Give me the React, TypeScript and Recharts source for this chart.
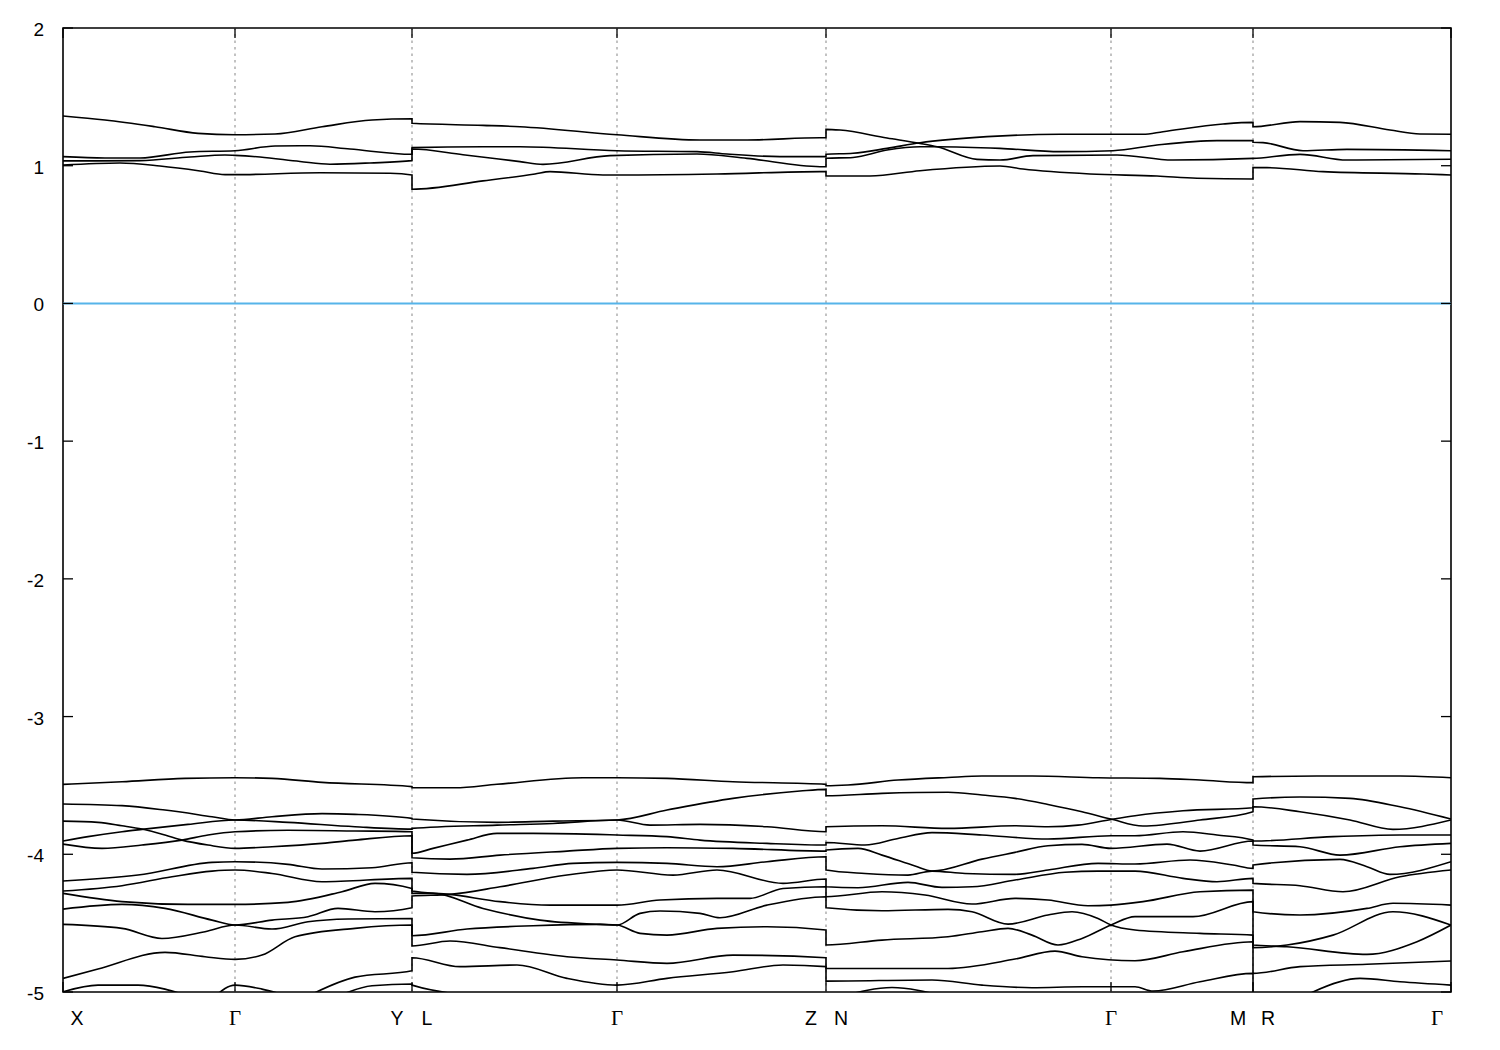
import React from 'react';
import { LineChart, Line, XAxis, YAxis, ReferenceLine, ReferenceArea } from 'recharts';

type Pt = [number, number];

// high-symmetry points along the k-path (path distance units)
const kTicks = [0, 172, 349, 554, 763, 1048, 1190, 1388];
const kLabels: string[][] = [['X'], ['Γ'], ['Y', 'L'], ['Γ'], ['Z', 'N'], ['Γ'], ['M', 'R'], ['Γ']];
const eTicks = [-5, -4, -3, -2, -1, 0, 1, 2];
const pathBreaks = [349, 763, 1190];

// X – Γ – Y
const XGY: Pt[][] = [
  [[0, 1.361], [42, 1.332], [92, 1.283], [135, 1.235], [172, 1.225], [212, 1.23], [259, 1.283], [309, 1.332], [349, 1.341]],
  [[0, 1.066], [42, 1.056], [77, 1.056], [127, 1.1], [172, 1.109], [212, 1.143], [247, 1.145], [287, 1.121], [349, 1.083]],
  [[0, 1.035], [77, 1.037], [127, 1.063], [162, 1.078], [172, 1.075], [197, 1.063], [237, 1.031], [267, 1.011], [307, 1.02], [349, 1.037]],
  [[0, 1.005], [57, 1.02], [97, 0.998], [137, 0.962], [162, 0.935], [172, 0.935], [257, 0.949], [327, 0.945], [349, 0.933]],
  [[0, -3.492], [59, -3.473], [122, -3.449], [172, -3.444], [209, -3.449], [259, -3.478], [349, -3.509]],
  [[0, -3.635], [59, -3.647], [102, -3.679], [149, -3.727], [172, -3.751], [209, -3.727], [259, -3.705], [292, -3.71], [349, -3.739]],
  [[0, -3.904], [25, -3.872], [59, -3.836], [79, -3.819], [125, -3.783], [172, -3.751], [225, -3.768], [292, -3.8], [349, -3.817]],
  [[0, -3.759], [35, -3.768], [59, -3.793], [79, -3.817], [102, -3.86], [119, -3.897], [145, -3.933], [172, -3.957], [209, -3.945], [259, -3.921], [292, -3.897], [349, -3.865]],
  [[0, -3.926], [39, -3.957], [79, -3.933], [119, -3.897], [145, -3.86], [172, -3.836], [225, -3.826], [292, -3.831], [349, -3.836]],
  [[0, -4.194], [75, -4.151], [149, -4.059], [172, -4.054], [225, -4.073], [259, -4.107], [309, -4.098], [349, -4.061]],
  [[0, -4.267], [59, -4.228], [109, -4.163], [149, -4.122], [172, -4.114], [209, -4.139], [259, -4.199], [349, -4.175]],
  [[0, -4.284], [59, -4.344], [125, -4.364], [172, -4.364], [225, -4.349], [279, -4.272], [312, -4.211], [349, -4.248]],
  [[0, -4.398], [59, -4.364], [102, -4.393], [149, -4.478], [172, -4.514], [209, -4.478], [245, -4.453], [275, -4.393], [312, -4.417], [349, -4.388]],
  [[0, -4.509], [59, -4.538], [99, -4.611], [142, -4.562], [172, -4.514], [209, -4.543], [245, -4.49], [285, -4.47], [349, -4.466]],
  [[0, -4.901], [35, -4.833], [102, -4.712], [142, -4.744], [172, -4.763], [199, -4.732], [232, -4.599], [292, -4.538], [349, -4.514]],
  [[0, -4.998], [35, -4.95], [75, -4.95], [102, -4.979], [125, -5.03]],
  [[152, -5.03], [172, -4.95], [199, -4.979], [225, -5.03]],
  [[245, -5.03], [292, -4.892], [349, -4.846]],
  [[275, -5.03], [309, -4.955], [349, -4.942]],
];

// L – Γ – Z
const LGZ: Pt[][] = [
  [[349, 1.308], [420, 1.293], [457, 1.283], [554, 1.225], [637, 1.187], [684, 1.187], [757, 1.203], [763, 1.203]],
  [[349, 1.131], [420, 1.138], [457, 1.138], [554, 1.109], [634, 1.102], [664, 1.085], [717, 1.066], [763, 1.066]],
  [[349, 1.121], [400, 1.08], [457, 1.03], [480, 1.01], [547, 1.073], [634, 1.085], [684, 1.053], [757, 0.993], [763, 0.993]],
  [[349, 0.829], [420, 0.89], [472, 0.94], [487, 0.957], [540, 0.933], [554, 0.933], [654, 0.94], [757, 0.957], [763, 0.957]],
  [[349, -3.517], [392, -3.517], [434, -3.492], [520, -3.444], [554, -3.444], [604, -3.449], [670, -3.473], [763, -3.492]],
  [[349, -3.744], [434, -3.768], [490, -3.759], [554, -3.751], [604, -3.679], [670, -3.594], [737, -3.541], [763, -3.529]],
  [[349, -3.812], [434, -3.788], [490, -3.776], [554, -3.751], [587, -3.788], [637, -3.783], [704, -3.8], [763, -3.836]],
  [[349, -3.993], [370, -3.957], [404, -3.897], [434, -3.848], [470, -3.848], [554, -3.86], [604, -3.872], [637, -3.897], [704, -3.921], [763, -3.933]],
  [[349, -4.025], [387, -4.035], [437, -4.006], [504, -3.977], [554, -3.957], [604, -3.952], [670, -3.957], [763, -3.977]],
  [[349, -4.131], [404, -4.146], [470, -4.102], [510, -4.066], [554, -4.059], [604, -4.066], [654, -4.09], [704, -4.054], [763, -4.018]],
  [[349, -4.303], [387, -4.291], [437, -4.236], [504, -4.151], [554, -4.114], [610, -4.151], [654, -4.114], [720, -4.211], [763, -4.18]],
  [[349, -4.267], [387, -4.291], [437, -4.344], [487, -4.369], [554, -4.369], [597, -4.332], [654, -4.32], [687, -4.32], [720, -4.248], [763, -4.236]],
  [[349, -4.284], [370, -4.284], [420, -4.393], [477, -4.478], [537, -4.509], [554, -4.514], [577, -4.574], [604, -4.587], [654, -4.538], [704, -4.526], [763, -4.55]],
  [[349, -4.591], [404, -4.543], [470, -4.519], [537, -4.509], [554, -4.514], [577, -4.429], [597, -4.412], [637, -4.429], [657, -4.461], [704, -4.369], [763, -4.308]],
  [[349, -4.666], [387, -4.63], [437, -4.678], [504, -4.744], [554, -4.768], [604, -4.792], [670, -4.732], [763, -4.751]],
  [[349, -4.751], [397, -4.816], [454, -4.804], [504, -4.901], [554, -4.95], [604, -4.901], [670, -4.853], [720, -4.804], [763, -4.816]],
  [[349, -4.95], [420, -5.03]],
];

// N – Γ – M
const NGM: Pt[][] = [
  [[763, 1.264], [777, 1.259], [824, 1.201], [857, 1.162], [874, 1.138], [914, 1.046], [937, 1.041], [970, 1.073], [1054, 1.078], [1110, 1.041], [1190, 1.053]],
  [[763, 1.083], [790, 1.09], [824, 1.126], [857, 1.167], [924, 1.211], [997, 1.228], [1080, 1.228], [1100, 1.247], [1160, 1.303], [1190, 1.315]],
  [[763, 1.054], [790, 1.06], [824, 1.114], [857, 1.138], [874, 1.138], [937, 1.126], [997, 1.102], [1050, 1.109], [1094, 1.15], [1154, 1.182], [1190, 1.182]],
  [[763, 0.925], [807, 0.925], [857, 0.964], [937, 0.998], [960, 0.976], [1027, 0.94], [1094, 0.925], [1134, 0.909], [1190, 0.904]],
  [[763, -3.502], [785, -3.497], [835, -3.461], [885, -3.442], [919, -3.432], [969, -3.432], [1035, -3.444], [1097, -3.449], [1137, -3.461], [1190, -3.48]],
  [[763, -3.575], [819, -3.558], [885, -3.55], [919, -3.57], [952, -3.594], [985, -3.638], [1019, -3.691], [1048, -3.744], [1080, -3.795], [1137, -3.751], [1190, -3.691]],
  [[763, -3.8], [819, -3.793], [885, -3.812], [952, -3.793], [985, -3.8], [1015, -3.788], [1048, -3.747], [1072, -3.72], [1120, -3.684], [1190, -3.662]],
  [[763, -3.914], [802, -3.933], [835, -3.885], [869, -3.843], [919, -3.86], [985, -3.889], [1048, -3.865], [1072, -3.865], [1120, -3.836], [1154, -3.86], [1190, -3.897]],
  [[763, -3.969], [795, -3.957], [819, -4.006], [852, -4.085], [869, -4.122], [919, -4.035], [952, -3.986], [985, -3.938], [1019, -3.928], [1048, -3.957], [1104, -3.926], [1137, -3.977], [1190, -3.904]],
  [[763, -4.114], [802, -4.139], [845, -4.151], [869, -4.122], [902, -4.139], [952, -4.146], [985, -4.114], [1035, -4.066], [1072, -4.071], [1127, -4.042], [1170, -4.078], [1190, -4.102]],
  [[763, -4.236], [795, -4.243], [845, -4.204], [879, -4.24], [909, -4.236], [952, -4.187], [1002, -4.131], [1035, -4.122], [1072, -4.122], [1120, -4.175], [1154, -4.199], [1190, -4.175]],
  [[763, -4.308], [819, -4.272], [862, -4.296], [909, -4.361], [952, -4.32], [985, -4.332], [1025, -4.374], [1048, -4.369], [1080, -4.344], [1137, -4.272], [1190, -4.26]],
  [[763, -4.388], [819, -4.41], [885, -4.4], [909, -4.417], [945, -4.507], [985, -4.441], [1009, -4.417], [1035, -4.466], [1048, -4.514], [1072, -4.55], [1137, -4.574], [1190, -4.587]],
  [[763, -4.659], [819, -4.623], [885, -4.599], [919, -4.562], [945, -4.538], [969, -4.587], [995, -4.659], [1019, -4.611], [1048, -4.514], [1072, -4.453], [1130, -4.453], [1190, -4.344]],
  [[763, -4.829], [885, -4.829], [952, -4.761], [992, -4.703], [1019, -4.744], [1072, -4.773], [1120, -4.708], [1190, -4.635]],
  [[763, -4.921], [869, -4.913], [919, -4.95], [969, -4.969], [1019, -4.962], [1072, -4.962], [1090, -4.993], [1137, -4.926], [1190, -4.865]],
  [[780, -5.03], [829, -4.967], [880, -5.03]],
];

// R – Γ
const RG: Pt[][] = [
  [[1190, 1.283], [1237, 1.32], [1277, 1.315], [1327, 1.259], [1357, 1.23], [1388, 1.228]],
  [[1190, 1.17], [1200, 1.168], [1240, 1.109], [1284, 1.119], [1388, 1.109]],
  [[1190, 1.053], [1237, 1.082], [1284, 1.041], [1388, 1.047]],
  [[1190, 0.986], [1204, 0.986], [1260, 0.957], [1360, 0.94], [1388, 0.933]],
  [[1190, -3.437], [1254, -3.432], [1337, -3.432], [1388, -3.444]],
  [[1190, -3.599], [1237, -3.584], [1287, -3.594], [1337, -3.655], [1388, -3.744]],
  [[1190, -3.655], [1237, -3.691], [1287, -3.751], [1330, -3.819], [1388, -3.751]],
  [[1190, -3.904], [1270, -3.872], [1337, -3.86], [1388, -3.86]],
  [[1190, -3.933], [1237, -3.945], [1277, -4.006], [1337, -3.945], [1388, -3.921]],
  [[1190, -4.078], [1277, -4.037], [1304, -4.09], [1327, -4.146], [1388, -4.054]],
  [[1190, -4.211], [1237, -4.228], [1280, -4.272], [1337, -4.163], [1388, -4.114]],
  [[1190, -4.417], [1237, -4.441], [1304, -4.393], [1330, -4.356], [1388, -4.369]],
  [[1190, -4.659], [1224, -4.671], [1304, -4.727], [1354, -4.635], [1388, -4.514]],
  [[1190, -4.678], [1224, -4.659], [1270, -4.587], [1330, -4.417], [1388, -4.514]],
  [[1190, -4.865], [1237, -4.816], [1304, -4.799], [1388, -4.775]],
  [[1190, -5.3], [1250, -5.0], [1297, -4.901], [1337, -4.926], [1388, -4.95]],
];

const segments = [XGY, LGZ, NGM, RG];

// join segments into continuous bands (energy-ordered at each path break)
function buildBands() {
  const bands: Pt[][] = segments[0].map((c) => [...c]);
  pathBreaks.forEach((b, i) => {
    const next = segments[i + 1];
    const open = bands
      .filter((band) => band[band.length - 1][0] === b)
      .sort((p, q) => q[q.length - 1][1] - p[p.length - 1][1]);
    const starts = next.filter((c) => c[0][0] === b).sort((p, q) => q[0][1] - p[0][1]);
    const used = new Set<Pt[]>();
    starts.forEach((c, j) => {
      if (j < open.length) {
        open[j].push(...c);
        used.add(c);
      }
    });
    next.forEach((c) => {
      if (!used.has(c)) bands.push([...c]);
    });
  });
  return bands.map((band) => band.map(([k, e]) => ({ k, e })));
}

const bands = buildBands();

const W = 1492;
const H = 1042;
const PL = 55;
const PR = 1443;
const PT = 20;
const PB = 984;
const SANS = 'Liberation Sans, Arial, Helvetica, sans-serif';
const SERIF = 'Liberation Serif, DejaVu Serif, Times New Roman, serif';

const YTick = (props: any) => {
  const { y, payload } = props;
  return (
    <g>
      <line x1={PL} x2={PL + 10} y1={y} y2={y} stroke="#000" strokeWidth={1.3} />
      <line x1={PR - 10} x2={PR} y1={y} y2={y} stroke="#000" strokeWidth={1.3} />
      <text x={PL - 19} y={y} dy={8} textAnchor="end" fontFamily={SANS} fontSize={19} fill="#000">
        {String(payload.value)}
      </text>
    </g>
  );
};

const XTick = (props: any) => {
  const { x, payload } = props;
  const i = kTicks.indexOf(payload.value);
  const labels = kLabels[i] || [];
  const ty = PB + 33;
  const items: { t: string; cx: number }[] = [];
  if (labels.length === 2) {
    items.push({ t: labels[0], cx: x - 15 });
    items.push({ t: labels[1], cx: x + 15 });
  } else if (labels.length === 1) {
    let cx = x;
    if (i === 0) cx = x + 14;
    if (i === kTicks.length - 1) cx = x - 14;
    items.push({ t: labels[0], cx });
  }
  return (
    <g>
      <line x1={x} x2={x} y1={PB} y2={PB - 10} stroke="#000" strokeWidth={1.3} />
      <line x1={x} x2={x} y1={PT} y2={PT + 10} stroke="#000" strokeWidth={1.3} />
      {items.map((it, j) => (
        <text
          key={j}
          x={it.cx}
          y={ty}
          textAnchor="middle"
          fontFamily={it.t === 'Γ' ? SERIF : SANS}
          fontSize={it.t === 'Γ' ? 21 : 19.5}
          fill="#000"
        >
          {it.t}
        </text>
      ))}
    </g>
  );
};

export default function App() {
  return (
    <div style={{ width: W, height: H, background: '#fff' }}>
      <LineChart width={W} height={H} margin={{ top: PT, right: W - PR, bottom: 18, left: 5 }}>
        <XAxis
          type="number"
          dataKey="k"
          domain={[0, 1388]}
          ticks={kTicks}
          interval={0}
          height={H - PB - 18}
          axisLine={false}
          tickLine={false}
          tick={XTick}
          allowDataOverflow
        />
        <YAxis
          type="number"
          dataKey="e"
          domain={[-5, 2]}
          ticks={eTicks}
          interval={0}
          width={PL - 5}
          axisLine={false}
          tickLine={false}
          tick={YTick}
          allowDataOverflow
        />
        {kTicks.slice(1, -1).map((k) => (
          <ReferenceLine key={'g' + k} x={k} stroke="#9a9a9a" strokeWidth={1.2} strokeDasharray="2.5 4" />
        ))}
        <ReferenceLine y={0} stroke="#56b4e9" strokeWidth={2} />
        {bands.map((d, i) => (
          <Line
            key={i}
            data={d}
            dataKey="e"
            type="monotone"
            stroke="#000"
            strokeWidth={1.6}
            dot={false}
            activeDot={false}
            isAnimationActive={false}
          />
        ))}
        <ReferenceArea x1={0} x2={1388} y1={-5} y2={2} fill="none" fillOpacity={0} stroke="#000" strokeWidth={1.6} />
      </LineChart>
    </div>
  );
}
